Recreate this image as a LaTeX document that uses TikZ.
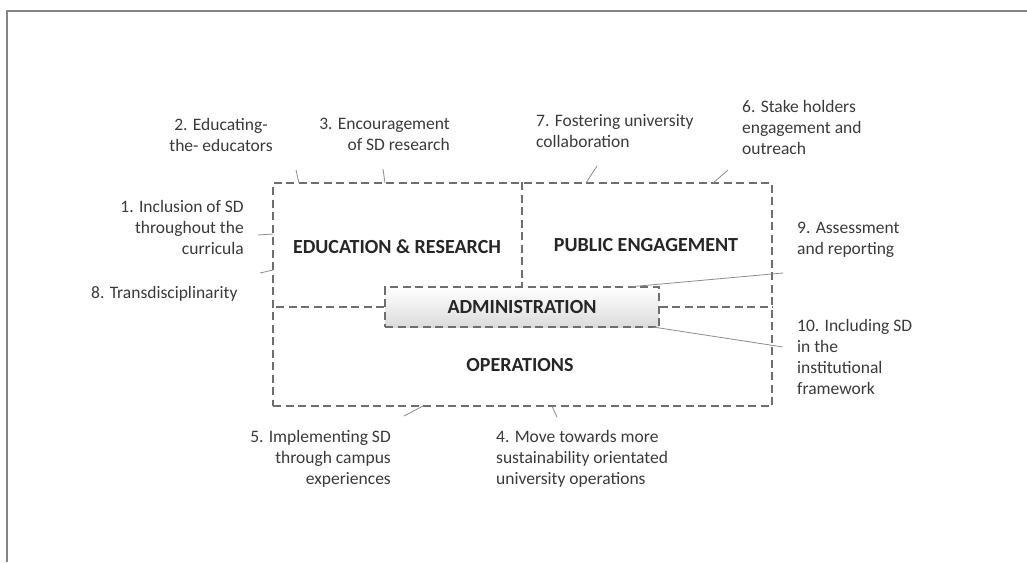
\documentclass[tikz,border=0pt]{standalone}
\usepackage{fontspec}
\setmainfont{Carlito}
\definecolor{boxgray}{HTML}{6E6E6E}
\definecolor{textgray}{HTML}{3A3A3A}
\definecolor{leadgray}{HTML}{8C8C8C}
\definecolor{framegray}{HTML}{858585}
\begin{document}
\begin{tikzpicture}[x=1pt,y=-1pt,
    dashbox/.style={draw=boxgray,line width=1.6pt,dash pattern=on 8pt off 4.5pt},
    leader/.style={draw=leadgray,line width=0.8pt},
    area/.style={font=\fontsize{20}{24}\selectfont\bfseries,text=black!85,inner sep=0pt},
    item/.style={font=\fontsize{17.5}{21}\selectfont,text=textgray,inner sep=0pt}]
    \useasboundingbox (0,0) rectangle (1027,562);
    {
    % Drawing page frame
    \draw [framegray,line width=1.5pt] (7,562) -- (7,11) -- (1027,11);%

    % Drawing outer box
    \node [dashbox,minimum width=499pt,minimum height=223pt] (outer) at (522.5,294.5) {};%

    % Drawing administration box
    \node [dashbox,area,top color=white,bottom color=black!14,minimum width=274pt,minimum height=40pt] (admin) at (522,307) {ADMINISTRATION};%

    % Drawing segment outer admin (divider)
    \draw [dashbox] (outer.north -| admin.north) -- (admin.north);%

    % Drawing segments admin outer (sides)
    \draw [dashbox] (admin.west) -- (admin.west -| outer.west);%
    \draw [dashbox] (admin.east) -- (admin.east -| outer.east);%

    % Marking areas
    \node [area] (edu) at (397,247) {EDUCATION \& RESEARCH};%
    \node [area] (pub) at (646,245) {PUBLIC ENGAGEMENT};%
    \node [area] (ops) at (520,365) {OPERATIONS};%

    % Marking items
    \node [item,anchor=north east,align=right] (i1) at (244,200) {1. Inclusion of SD\\throughout the\\curricula};%
    \node [item,anchor=north,align=center] (i2) at (221,118) {2. Educating-\\the- educators};%
    \node [item,anchor=north east,align=right] (i3) at (450,118) {3. Encouragement\\of SD research};%
    \node [item,anchor=north west,align=left] (i4) at (496,430) {4. Move towards more\\sustainability orientated\\university operations};%
    \node [item,anchor=north east,align=right] (i5) at (391,430) {5. Implementing SD\\through campus\\experiences};%
    \node [item,anchor=north west,align=left] (i6) at (742,100) {6. Stake holders\\engagement and\\outreach};%
    \node [item,anchor=north west,align=left] (i7) at (536,114) {7. Fostering university\\collaboration};%
    \node [item,anchor=west] (i8) at (91,294) {8. Transdisciplinarity};%
    \node [item,anchor=north west,align=left] (i9) at (797,222) {9. Assessment\\and reporting};%
    \node [item,anchor=north west,align=left] (i10) at (797,319) {10. Including SD\\in the\\institutional\\framework};%

    % Marking leader ends
    \coordinate (e1) at (258,235); \coordinate (b1) at (273,234);%
    \coordinate (e2) at (296,170); \coordinate (b2) at (299,183);%
    \coordinate (e3) at (383,169); \coordinate (b3) at (385,183);%
    \coordinate (e4) at (557,417); \coordinate (b4) at (552,406);%
    \coordinate (e5) at (404,416); \coordinate (b5) at (423,406);%
    \coordinate (e6) at (728,170); \coordinate (b6) at (713,183);%
    \coordinate (e7) at (597,166); \coordinate (b7) at (586,183);%
    \coordinate (e8) at (260,273); \coordinate (b8) at (273,270);%
    \coordinate (e9) at (783,273); \coordinate (b9) at (628,287);%
    \coordinate (e10) at (783,347); \coordinate (b10) at (653,327);%

    % Drawing leaders
    \foreach \k in {1,...,10}
      \draw [leader] (e\k) -- (b\k);%
    }
\end{tikzpicture}
\end{document}
